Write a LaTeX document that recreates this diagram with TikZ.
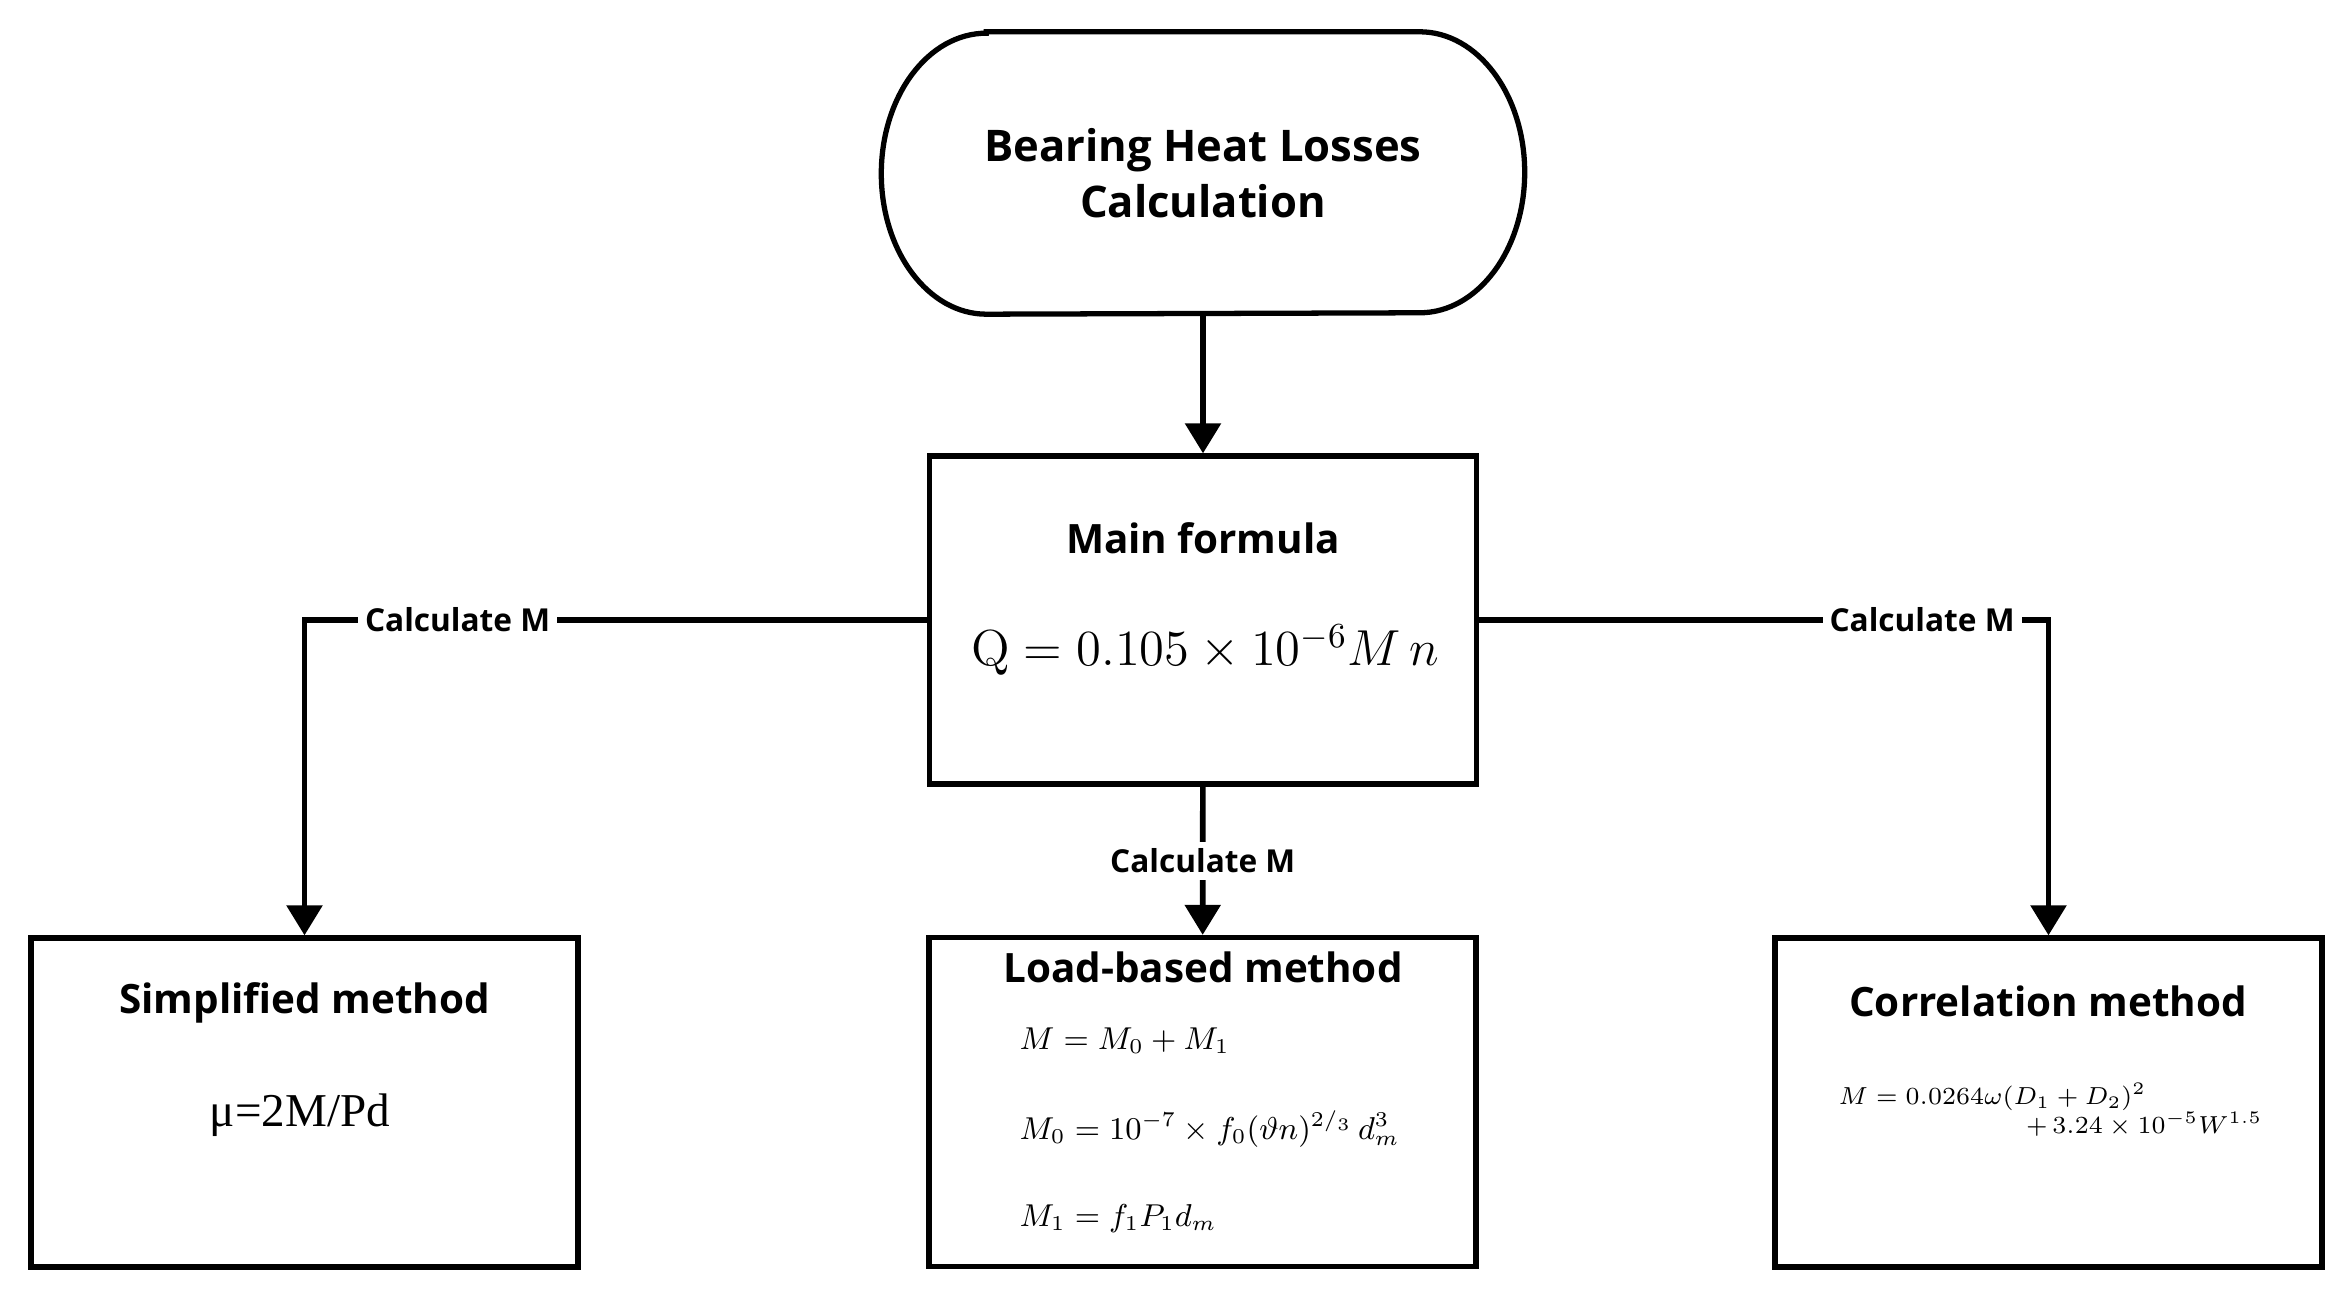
\documentclass[tikz,border=0pt]{standalone}
\usepackage{amsmath}
\usepackage[no-math]{fontspec}
\setmainfont{Open Sans}
\newfontfamily\serifeq{Liberation Serif}
\usepackage{tikz}
\usetikzlibrary{arrows.meta, positioning}

\begin{document}
\begin{tikzpicture}[
				boxline/.style={line width=1.5pt},
				methodbox/.style={draw, boxline, minimum width=5.47cm, minimum height=3.29cm},
				headtext/.style={font=\fontsize{11.5}{16}\selectfont\bfseries, align=center, inner sep=0pt},
				eqtext/.style={inner sep=0pt},
				flow/.style={line width=1.6pt, -{Triangle[length=0.3cm, width=0.35cm]}},
				cmlabel/.style={font=\fontsize{9}{10}\selectfont\bfseries, fill=white, inner sep=2pt}
			]
				\useasboundingbox (0,0) rectangle (23.43,-13.03);
				\node[minimum width=6.42cm, minimum height=2.81cm, headtext, font=\fontsize{12.4}{16}\selectfont\bfseries]
				     (term) at (12.03,-1.73) {Bearing Heat Losses\\Calculation};
				\draw[boxline] ([xshift=1.05cm]term.north west) -- ([xshift=-1.05cm]term.north east)
				     arc[start angle=90, end angle=-90, x radius=1.05cm, y radius=1.405cm]
				     -- ([xshift=1.05cm]term.south west)
				     arc[start angle=270, end angle=90, x radius=1.05cm, y radius=1.405cm] -- cycle;
				\node[methodbox, minimum height=3.28cm] (main) at (12.03,-6.20) {};
				\node[headtext] (mainhead) at (12.03,-5.38) {Main formula};
				\node[eqtext, font=\fontsize{14}{16}\selectfont] (maineq) at (12.05,-6.50)
				     {$\mathrm{Q} = 0.105 \times 10^{-6} M\,n$};
				\node[methodbox] (simp) at (3.045,-11.025) {};
				\node[headtext] (simphead) at (3.045,-10.03) {Simplified method};
				\node[eqtext, font=\fontsize{13.4}{16}\selectfont\serifeq] (simpeq) at (3.0,-11.15) {μ=2M/Pd};
				\node[methodbox] (load) at (12.025,-11.02) {};
				\node[headtext] (loadhead) at (12.03,-9.67) {Load-based method};
				\node[eqtext, anchor=base west, font=\fontsize{8.8}{11}\selectfont] (loadeqa) at (10.19,-10.50)
				     {$M = M_0 + M_1$};
				\node[eqtext, anchor=base west, font=\fontsize{8.8}{11}\selectfont] (loadeqb) at (10.19,-11.40)
				     {$M_0 = 10^{-7} \times f_0(\vartheta n)^{2/_{3}}\, d_m^3$};
				\node[eqtext, anchor=base west, font=\fontsize{8.8}{11}\selectfont] (loadeqc) at (10.19,-12.27)
				     {$M_1 = f_1 P_1 d_m$};
				\node[methodbox] (corr) at (20.485,-11.025) {};
				\node[headtext] (corrhead) at (20.48,-10.01) {Correlation method};
				\node[eqtext, anchor=base west, font=\fontsize{7.5}{9}\selectfont] (correqa) at (18.38,-11.05)
				     {$M = 0.0264\omega(D_1 + D_2)^2$};
				\node[eqtext, anchor=base east, font=\fontsize{7.3}{9}\selectfont] (correqb) at (22.63,-11.34)
				     {$+\, 3.24 \times 10^{-5} W^{1.5}$};
				\draw[flow] (term) -- (main);
				\draw[flow] (main.west) -| node[cmlabel, pos=0.377] {Calculate M} (simp.north);
				\draw[flow] (main.east) -| node[cmlabel, pos=0.389] {Calculate M} (corr.north);
				\draw[flow] (main) -- node[cmlabel] {Calculate M} (load);
			\end{tikzpicture}
\end{document}
